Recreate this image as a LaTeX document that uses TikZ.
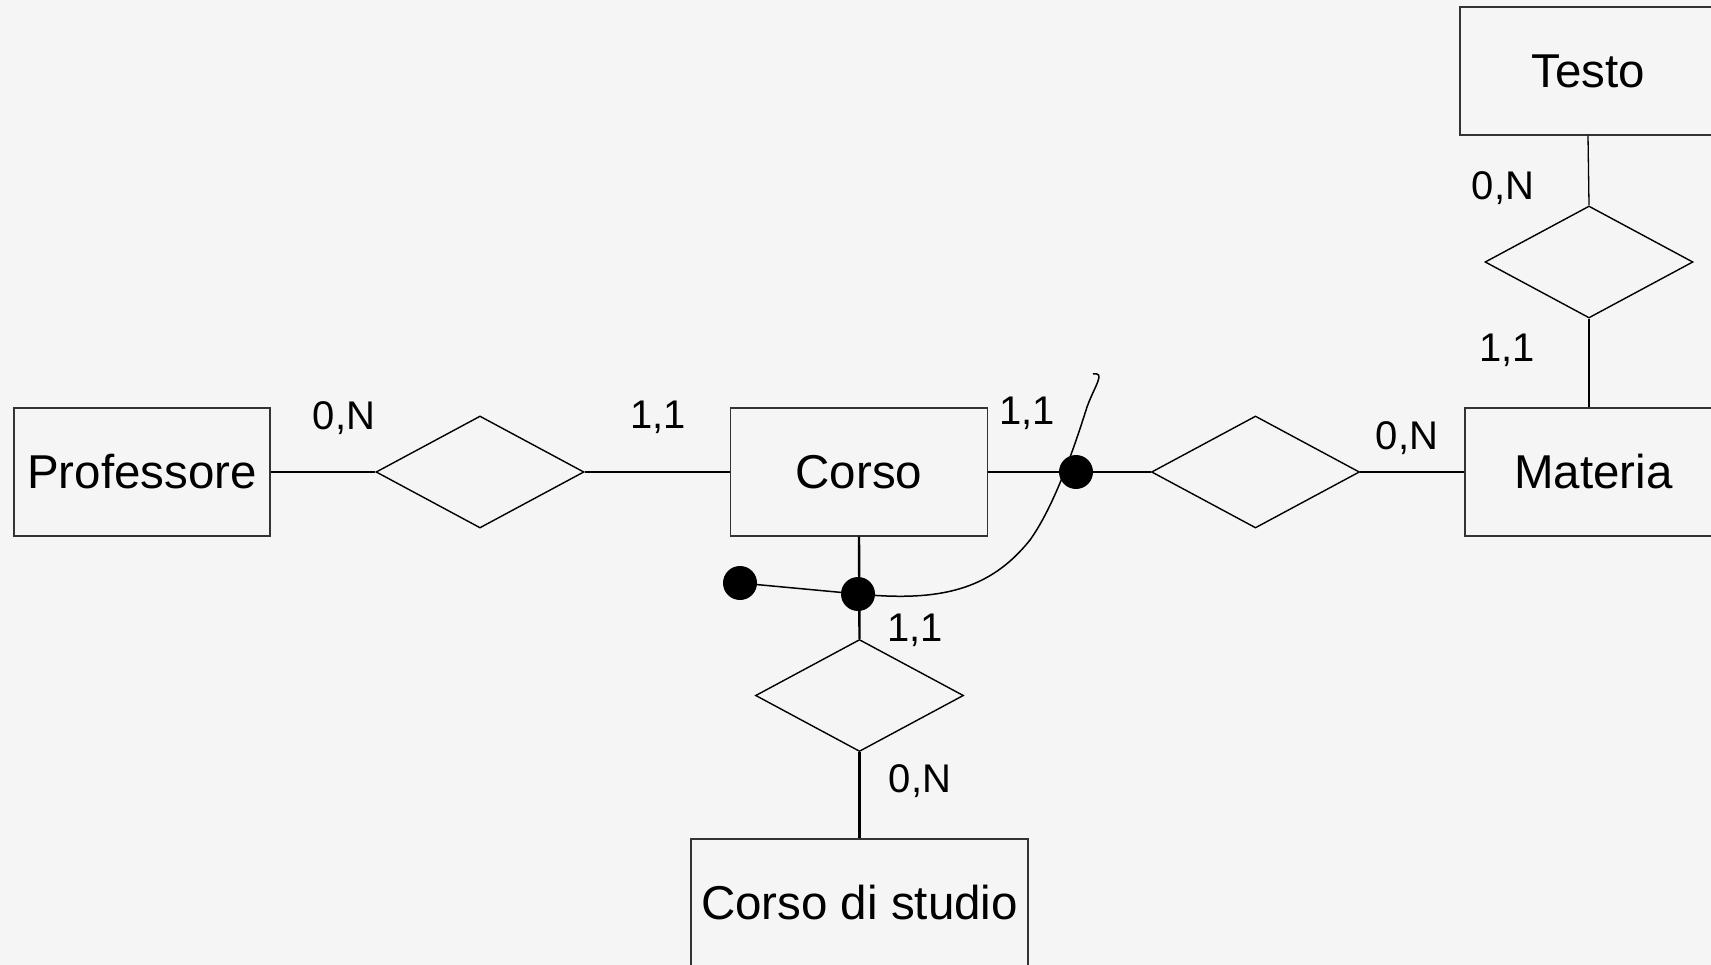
\documentclass[tikz,border=0pt]{standalone}
\usepackage{fontspec}
\setmainfont{Liberation Sans}
\usetikzlibrary{shapes.geometric}
\definecolor{bgc}{HTML}{F5F5F5}
\begin{document}
\begin{tikzpicture}[x=1pt,y=-1pt,
  entity/.style={draw=black!80,line width=1.3pt,minimum height=128pt,inner sep=0pt,font=\fontsize{47.5}{50}\selectfont},
  rel/.style={diamond,draw=black,line width=1.4pt,aspect=1.86,minimum width=208pt,minimum height=112pt,inner sep=0pt},
  card/.style={font=\fontsize{40}{42}\selectfont,inner sep=0pt},
  dotn/.style={circle,fill=black,minimum size=34pt,inner sep=0pt},
  thinln/.style={line width=1.3pt},
  thickln/.style={line width=2.4pt},
  curveln/.style={line width=1.5pt}]
\useasboundingbox (0,0) rectangle (1711,965);
\fill[bgc] (0,0) rectangle (1711,965);
% entities
\node[entity,minimum width=256pt] (prof) at (142,472) {Professore};
\node[entity,minimum width=257pt] (corso) at (859,472) {Corso};
\node[entity,minimum width=257pt] (materia) at (1593.5,472) {Materia};
\node[entity,minimum width=256pt] (testo) at (1588,71) {Testo};
\node[entity,minimum width=337pt] (cds) at (859.5,903) {Corso di studio};
% relationships
\node[rel] (r1) at (480,472) {};
\node[rel] (r2) at (1255.5,472) {};
\node[rel] (r3) at (1589,262) {};
\node[rel] (r4) at (859.5,695.5) {};
% connectors
\draw[thinln] (prof.east) -- (r1.west);
\draw[thickln] (r1.east) -- (corso.west);
\draw[thickln] (corso.east) -- (r2.west);
\draw[thinln] (r2.east) -- (materia.west);
\draw[thinln] (testo.south) -- (r3.north);
\draw[thickln] (r3.south) -- (r3.south |- materia.north);
\draw[thickln] (corso.south) -- (r4.north);
\draw[thickln] (r4.south) -- (cds.north);
% dots
\node[dotn] (d1) at (1076,472) {};
\node[dotn] (d2) at (858,594) {};
\node[dotn] (d3) at (740,583) {};
\draw[curveln] (d3.center) -- (d2.center);
\draw[curveln] (d2.center) .. controls (940,602) and (990,590) .. (1030,540)
  .. controls (1055,505) and (1075,445) .. (1087,407)
  .. controls (1095,385) and (1106,372) .. (1093,374);
% cardinalities
\node[card] (c1) at (344,418) {0,N};
\node[card] (c2) at (658,417) {1,1};
\node[card] (c3) at (1027,413) {1,1};
\node[card] (c4) at (1407,438) {0,N};
\node[card] (c5) at (1503,188) {0,N};
\node[card] (c6) at (1507,350) {1,1};
\node[card] (c7) at (915,630) {1,1};
\node[card] (c8) at (920,781) {0,N};
\end{tikzpicture}
\end{document}
